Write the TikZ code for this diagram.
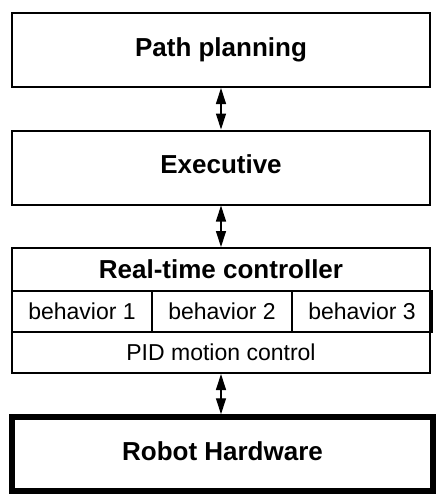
\documentclass[tikz,border=0pt]{standalone}
\usepackage{fontspec}
\setmainfont{Liberation Sans}
\usetikzlibrary{positioning, arrows.meta}
\tikzset{
  layerbox/.style={draw=black, line width=2pt, fill=white, minimum width=418pt, minimum height=74pt,
    inner sep=0pt, text height=18pt, text depth=6pt, font=\fontsize{26}{30}\selectfont\bfseries, align=center},
  hwbox/.style={layerbox, line width=6pt, minimum width=421pt, minimum height=73.5pt},
  rtcframe/.style={draw=black, line width=2pt, minimum width=418pt, minimum height=125pt, inner sep=0pt},
  titletxt/.style={minimum width=418pt, minimum height=43pt, inner sep=0pt,
    font=\fontsize{26}{30}\selectfont\bfseries},
  subbox/.style={draw=black, line width=1.5pt, minimum height=41pt, inner sep=0pt,
    font=\fontsize{23}{27}\selectfont},
  linkarr/.style={{Triangle[length=16pt,width=10pt]}-{Triangle[length=16pt,width=10pt]}, line width=1.2pt, black},
}

\begin{document}
\begin{tikzpicture}[x=1pt, y=-1pt, >=Stealth]
  \useasboundingbox (0,0) rectangle (441,504);
  % layers
  \node[layerbox] (plan) at (221,50) {Path planning};
  \node[layerbox] (exec) at (221,167.5) {Executive};
  % real-time controller
  \node[titletxt] (rtctitle) at (221,269.5) {Real-time controller};
  \foreach \k in {1,2,3} {\node[subbox, minimum width=140pt] (beh\k) at ({12+140*\k-70},311.5) {behavior \k};}
  \node[subbox, minimum width=418pt] (pid) at (221,352.5) {PID motion control};
  \node[rtcframe] (rtc) at (221,310.5) {};
  \node[hwbox] (hw) at (222.5,454) {Robot Hardware};
  % links
  \draw[linkarr] (plan.south) -- (exec.north);
  \draw[linkarr] (exec.south) -- (rtc.north);
  \draw[linkarr] (rtc.south) -- (rtc.south |- hw.north);
\end{tikzpicture}
\end{document}
